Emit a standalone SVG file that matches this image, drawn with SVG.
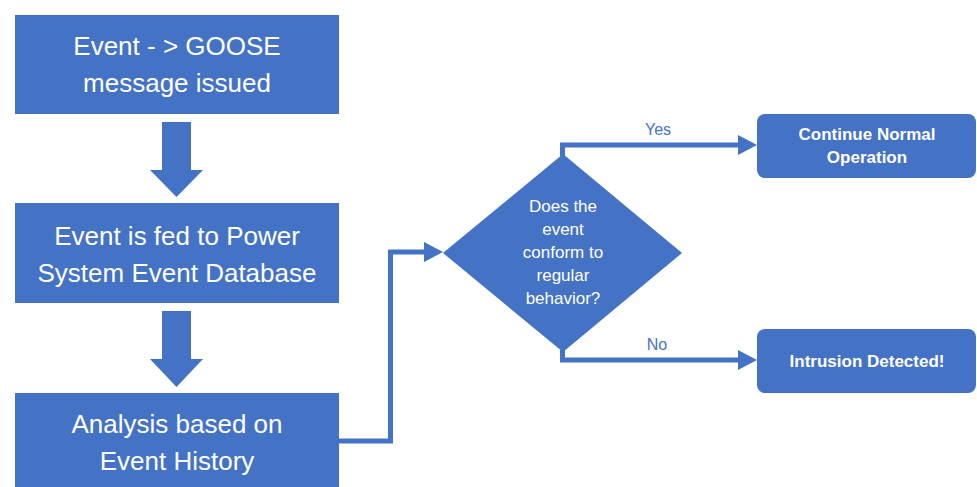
<svg xmlns="http://www.w3.org/2000/svg" width="977" height="487" viewBox="0 0 977 487">
  <style>
    .box { fill: #4472C4; }
    .step { font-family: "Liberation Sans", Arial, sans-serif; font-size: 26px; fill: #ffffff; text-anchor: middle; }
    .q { font-family: "Liberation Sans", Arial, sans-serif; font-size: 17px; fill: #ffffff; text-anchor: middle; }
    .out { font-family: "Liberation Sans", Arial, sans-serif; font-size: 17px; font-weight: bold; fill: #ffffff; text-anchor: middle; }
    .lbl { font-family: "Liberation Sans", Arial, sans-serif; font-size: 16px; fill: #4472C4; text-anchor: middle; }
    .wire { fill: none; stroke: #4472C4; stroke-width: 5; }
  </style>
  <defs>
    <marker id="head" viewBox="0 0 19 20" markerWidth="19" markerHeight="20" markerUnits="userSpaceOnUse" refX="0" refY="10" orient="auto">
      <path d="M0,0 L19,10 L0,20 Z" fill="#4472C4"/>
    </marker>
  </defs>

  <rect width="977" height="487" fill="#ffffff"/>

  <!-- process steps -->
  <g id="goose">
    <rect class="box" x="15" y="15" width="324" height="99"/>
    <text class="step" x="177" y="55">Event - &gt; GOOSE</text>
    <text class="step" x="177" y="92">message issued</text>
  </g>
  <g id="database">
    <rect class="box" x="15" y="203" width="324" height="100"/>
    <text class="step" x="177" y="245">Event is fed to Power</text>
    <text class="step" x="177" y="282">System Event Database</text>
  </g>
  <g id="analysis">
    <rect class="box" x="15" y="393" width="324" height="100"/>
    <text class="step" x="177" y="433">Analysis based on</text>
    <text class="step" x="177" y="470">Event History</text>
  </g>

  <!-- decision -->
  <g id="decision">
    <polygon class="box" points="443,253 563,154 682,253 563,352"/>
    <text class="q" x="563" y="212">Does the</text>
    <text class="q" x="563" y="235">event</text>
    <text class="q" x="563" y="258">conform to</text>
    <text class="q" x="563" y="281">regular</text>
    <text class="q" x="563" y="304">behavior?</text>
  </g>

  <!-- outcomes -->
  <g id="normal">
    <rect class="box" x="757" y="114" width="219" height="64" rx="8"/>
    <text class="out" x="867" y="140">Continue Normal</text>
    <text class="out" x="867" y="163">Operation</text>
  </g>
  <g id="intrusion">
    <rect class="box" x="757" y="329" width="219" height="64" rx="8"/>
    <text class="out" x="867" y="367">Intrusion Detected!</text>
  </g>

  <!-- connectors -->
  <g id="connectors">
    <polygon class="box" points="162,122 191,122 191,170 203,170 176.5,197 150,170 162,170"/>
    <polygon class="box" points="162,311 191,311 191,359 203,359 176.5,387 150,359 162,359"/>
    <path class="wire" d="M339,441 H390.5 V252 H424" marker-end="url(#head)"/>
    <path class="wire" d="M562.5,156 V145 H738" marker-end="url(#head)"/>
    <path class="wire" d="M562.5,350 V360 H738" marker-end="url(#head)"/>
    <text class="lbl" x="658" y="135">Yes</text>
    <text class="lbl" x="657" y="350">No</text>
  </g>
</svg>
